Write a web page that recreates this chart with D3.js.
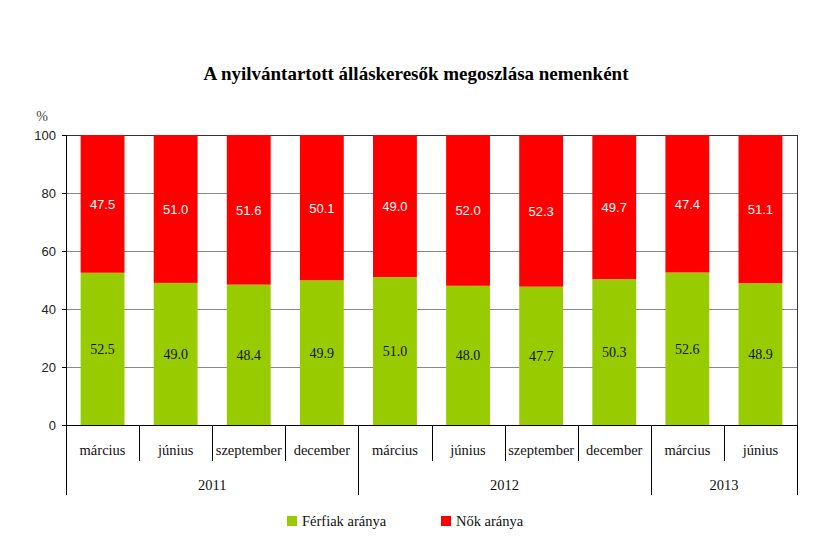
<!DOCTYPE html>
<html>
<head>
<meta charset="utf-8">
<script src="https://cdn.jsdelivr.net/npm/d3@7"></script>
<style>
  body { margin: 0; background: #fff; }
  svg { display: block; }
</style>
</head>
<body>
<svg id="chart" width="828" height="541"></svg>
<script>
// chart data
const months = ["március", "június", "szeptember", "december", "március", "június", "szeptember", "december", "március", "június"];
const years = ["2011", "2012", "2013"];
const yearSpans = [4, 4, 2];
const men = [52.5, 49.0, 48.4, 49.9, 51.0, 48.0, 47.7, 50.3, 52.6, 48.9];
const women = [47.5, 51.0, 51.6, 50.1, 49.0, 52.0, 52.3, 49.7, 47.4, 51.1];
const yTicks = [0, 20, 40, 60, 80, 100];

const svg = d3.select("#chart");
const plotLeft = 66, plotRight = 797, plotTop = 135, plotBottom = 425;

const x = d3.scaleBand().domain(d3.range(months.length)).range([plotLeft, plotRight]).paddingInner(0.4).paddingOuter(0.2);
const y = d3.scaleLinear().domain([0, 100]).range([plotBottom, plotTop]);
const step = x.step();

// title
svg.append("text")
  .attr("x", 416).attr("y", 80)
  .attr("text-anchor", "middle")
  .style("font", "bold 19px 'Liberation Serif', serif")
  .text("A nyilvántartott álláskeresők megoszlása nemenként");

// gridlines
svg.append("g").selectAll("line")
  .data(yTicks.filter(d => d > 0))
  .join("line")
  .attr("x1", plotLeft).attr("x2", plotRight)
  .attr("y1", d => y(d) + 0.5).attr("y2", d => y(d) + 0.5)
  .attr("stroke", d => d === 100 ? "#333" : "#888")
  .attr("stroke-width", 1);

// bars
const bars = svg.append("g");
bars.selectAll(".men").data(men).join("rect")
  .attr("x", (d, i) => x(i)).attr("width", x.bandwidth())
  .attr("y", d => y(d)).attr("height", d => plotBottom - y(d))
  .attr("fill", "#99cc00");
bars.selectAll(".women").data(women).join("rect")
  .attr("x", (d, i) => x(i)).attr("width", x.bandwidth())
  .attr("y", plotTop).attr("height", (d, i) => y(men[i]) - plotTop)
  .attr("fill", "#ff0000");

// value labels
svg.append("g").selectAll("text").data(men).join("text")
  .attr("x", (d, i) => x(i) + x.bandwidth() / 2)
  .attr("y", d => (y(d) + plotBottom) / 2 + 5)
  .attr("text-anchor", "middle")
  .style("font", "14px 'Liberation Serif', serif")
  .attr("fill", "#111")
  .text(d => d.toFixed(1));
svg.append("g").selectAll("text").data(women).join("text")
  .attr("x", (d, i) => x(i) + x.bandwidth() / 2)
  .attr("y", (d, i) => (plotTop + y(men[i])) / 2 + 5)
  .attr("text-anchor", "middle")
  .style("font", "13px 'Liberation Sans', sans-serif")
  .attr("fill", "#fff")
  .text(d => d.toFixed(1));

// frame: right border
svg.append("line")
  .attr("x1", plotRight + 0.5).attr("x2", plotRight + 0.5)
  .attr("y1", plotTop).attr("y2", plotBottom)
  .attr("stroke", "#333");

// y axis
const yAxis = svg.append("g")
  .attr("transform", `translate(${plotLeft},0)`)
  .call(d3.axisLeft(y).tickValues(yTicks).tickSize(4).tickPadding(6).tickFormat(d3.format("d")));
yAxis.select(".domain").attr("stroke", "#000");
yAxis.selectAll("text").style("font", "13px 'Liberation Sans', sans-serif").attr("fill", "#222");

svg.append("text")
  .attr("x", 42).attr("y", 121)
  .attr("text-anchor", "middle")
  .style("font", "14px 'Liberation Serif', serif")
  .attr("fill", "#444")
  .text("%");

// x axis line
svg.append("line")
  .attr("x1", plotLeft - 4).attr("x2", plotRight + 1)
  .attr("y1", plotBottom + 0.5).attr("y2", plotBottom + 0.5)
  .attr("stroke", "#000");

// month separators and labels
const sep = svg.append("g").attr("stroke", "#000");
d3.range(1, months.length).forEach(i => {
  const xs = Math.round(plotLeft + i * step) + 0.5;
  sep.append("line").attr("x1", xs).attr("x2", xs).attr("y1", plotBottom).attr("y2", 461);
});
svg.append("g").selectAll("text").data(months).join("text")
  .attr("x", (d, i) => plotLeft + (i + 0.5) * step)
  .attr("y", 455)
  .attr("text-anchor", "middle")
  .style("font", "14.5px 'Liberation Serif', serif")
  .attr("fill", "#111")
  .text(d => d);

// year separators and labels
const starts = d3.cumsum([0, ...yearSpans]);
starts.forEach(s => {
  const xs = Math.round(plotLeft + s * step) + 0.5;
  sep.append("line").attr("x1", xs).attr("x2", xs).attr("y1", plotBottom).attr("y2", 495);
});
svg.append("g").selectAll("text").data(years).join("text")
  .attr("x", (d, i) => plotLeft + (starts[i] + yearSpans[i] / 2) * step)
  .attr("y", 490)
  .attr("text-anchor", "middle")
  .style("font", "14.5px 'Liberation Serif', serif")
  .attr("fill", "#111")
  .text(d => d);

// legend
const legend = [["Férfiak aránya", "#99cc00", 287], ["Nők aránya", "#ff0000", 441]];
const lg = svg.append("g");
legend.forEach(([label, color, lx]) => {
  lg.append("rect").attr("x", lx).attr("y", 516).attr("width", 10).attr("height", 10).attr("fill", color);
  lg.append("text").attr("x", lx + 15).attr("y", 526)
    .style("font", "14.5px 'Liberation Serif', serif")
    .attr("fill", "#111")
    .text(label);
});
</script>
</body>
</html>
